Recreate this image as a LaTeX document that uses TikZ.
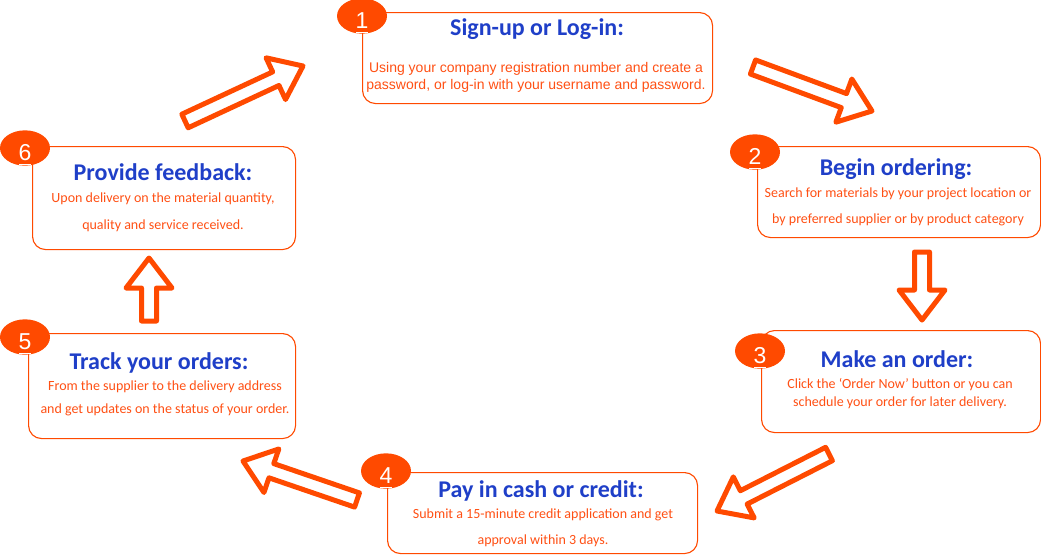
\documentclass[tikz,border=0pt]{standalone}
\usepackage{fontspec}
\setmainfont{Carlito}
\newfontfamily\arialfont{Liberation Sans}
\usetikzlibrary{calc,shapes.geometric}
\definecolor{orng}{HTML}{FF4A00}
\definecolor{ttl}{HTML}{1F3FC8}
\definecolor{bdy}{HTML}{FF5014}
\tikzset{
  box/.style={draw=orng, line width=1.1pt, rounded corners=13pt, fill=white, inner sep=0pt, anchor=north west},
  badge/.style={ellipse, fill=orng, draw=none, minimum width=50pt, minimum height=35pt, inner sep=0pt,
     text=white, font=\arialfont\fontsize{23}{23}\selectfont, text height=25pt, text depth=0pt},
  uline/.style={draw=white, line width=1.8pt},
  ttlt/.style={text=ttl, font=\fontsize{24}{28}\selectfont\bfseries, anchor=base, inner sep=0pt},
  bdyt/.style={text=bdy, font=\fontsize{14}{16}\selectfont, anchor=base, inner sep=0pt},
  bdya/.style={text=bdy, font=\arialfont\fontsize{14}{16}\selectfont, anchor=base, inner sep=0pt},
  barrow/.style={draw=orng, line width=5pt, fill=white, line join=round}
}
\newcommand{\blockarr}[2]{%
  \coordinate (N) at ($(#2)!30pt!(#1)$);
  \draw[barrow] ($(#1)!7.5pt!90:(#2)$) -- ($(N)!7.5pt!-90:(#1)$) -- ($(N)!23pt!-90:(#1)$) -- (#2)
     -- ($(N)!23pt!90:(#1)$) -- ($(N)!7.5pt!90:(#1)$) -- ($(#1)!7.5pt!-90:(#2)$) -- cycle;}
\begin{document}
\begin{tikzpicture}[x=1pt,y=-1pt]
\useasboundingbox (0,0) rectangle (1041,555);
% boxes
\node[box, minimum width=350pt, minimum height=91pt] (b1) at (362,12) {};
\node[box, minimum width=283pt, minimum height=91pt] (b2) at (757,146) {};
\node[box, minimum width=279pt, minimum height=102pt] (b3) at (761,330) {};
\node[box, minimum width=310pt, minimum height=81pt] (b4) at (387,472) {};
\node[box, minimum width=267pt, minimum height=105pt] (b5) at (28,333) {};
\node[box, minimum width=263pt, minimum height=103pt] (b6) at (32,146) {};
% badges
\node[badge] (n1) at (362,16) {1};
\node[badge] (n2) at (755,152) {2};
\node[badge] (n3) at (760,351) {3};
\node[badge] (n4) at (386,471) {4};
\node[badge] (n5) at (25,337) {5};
\node[badge] (n6) at (25,148) {6};
\foreach \n in {n1,n2,n3,n4,n5,n6}{
  \draw[uline] ($(\n.center)+(-6,16.5)$) -- ($(\n.center)+(6,16.5)$);
}
% texts
\node[ttlt] (t1) at (537,35) {Sign-up or Log-in:};
\node[bdya] (d1a) at (536,72) {Using your company registration number and create a};
\node[bdya] (d1b) at (536,89) {password, or log-in with your username and password.};
\node[ttlt] (t2) at (896,175) {Begin ordering:};
\node[bdyt] (d2a) at (898,197) {Search for materials by your project location or};
\node[bdyt] (d2b) at (898,223) {by preferred supplier or by product category};
\node[ttlt] (t3) at (897,367) {Make an order:};
\node[bdyt] (d3a) at (900,388) {Click the ‘Order Now’ button or you can};
\node[bdyt] (d3b) at (900,406) {schedule your order for later delivery.};
\node[ttlt] (t4) at (541,497) {Pay in cash or credit:};
\node[bdyt] (d4a) at (543,518) {Submit a 15-minute credit application and get};
\node[bdyt] (d4b) at (543,544) {approval within 3 days.};
\node[ttlt] (t5) at (159,369) {Track your orders:};
\node[bdyt] (d5a) at (165,390) {From the supplier to the delivery address};
\node[bdyt] (d5b) at (165,413) {and get updates on the status of your order.};
\node[ttlt] (t6) at (163,180) {Provide feedback:};
\node[bdyt] (d6a) at (163,202) {Upon delivery on the material quantity,};
\node[bdyt] (d6b) at (163,229) {quality and service received.};
% arrow end points
\coordinate (a12s) at (753,67);  \coordinate (a12e) at (872,111);
\coordinate (a23s) at (922,252); \coordinate (a23e) at (922,320);
\coordinate (a34s) at (829,454); \coordinate (a34e) at (717,511);
\coordinate (a45s) at (357,500); \coordinate (a45e) at (243,461);
\coordinate (a56s) at (149,321); \coordinate (a56e) at (149,258);
\coordinate (a61s) at (185,121); \coordinate (a61e) at (303,66);
\blockarr{a12s}{a12e}
\blockarr{a23s}{a23e}
\blockarr{a34s}{a34e}
\blockarr{a45s}{a45e}
\blockarr{a56s}{a56e}
\blockarr{a61s}{a61e}
\end{tikzpicture}
\end{document}
